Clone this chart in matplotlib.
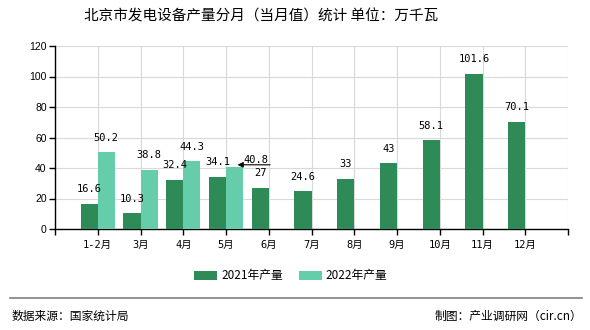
import matplotlib
matplotlib.use("Agg")
import matplotlib.pyplot as plt
import numpy as np

plt.rcParams['font.family'] = ['Noto Sans CJK SC', 'DejaVu Sans']

months = ["1-2月", "3月", "4月", "5月", "6月", "7月", "8月", "9月", "10月", "11月", "12月"]
out_2021 = [16.6, 10.3, 32.4, 34.1, 27, 24.6, 33, 43, 58.1, 101.6, 70.1]
out_2022 = [50.2, 38.8, 44.3, 40.8]

C21 = "#2e8b57"
C22 = "#66cdaa"
MONO = ['DejaVu Sans Mono', 'Noto Sans CJK SC']

fig = plt.figure(figsize=(5.9, 3.3), dpi=100)
ax = fig.add_axes([55 / 590, 1 - 229 / 330, 513 / 590, 183 / 330])

x21 = np.arange(len(out_2021))
x22 = np.arange(len(out_2022))
w = 0.4
ax.bar(x21 - w / 2, out_2021, w, color=C21, label="2021年产量", zorder=3)
ax.bar(x22 + w / 2, out_2022, w, color=C22, label="2022年产量", zorder=3)

for x, v in zip(x21, out_2021):
    ax.annotate(f"{v:g}", (x - w / 2, v), xytext=(0, 7), textcoords="offset points",
                ha="center", va="bottom", fontsize=7.5, family=MONO)
for i, (x, v) in enumerate(zip(x22, out_2022)):
    if i == 3:
        # last value is pushed aside, with a leader arrow back to the bar top
        ax.annotate(f"{v:g}", (x + w / 2 + 0.07, v + 1.3), xytext=(x + w / 2 + 0.49, v + 1.3),
                    textcoords="data", ha="center", va="bottom", fontsize=7.5, family=MONO,
                    arrowprops=dict(arrowstyle="-|>", color="black", lw=0.8,
                                    mutation_scale=8, shrinkA=0, shrinkB=0,
                                    patchA=None, relpos=(1.08, 0.0)))
    else:
        ax.annotate(f"{v:g}", (x + w / 2, v), xytext=(0, 7), textcoords="offset points",
                    ha="center", va="bottom", fontsize=7.5, family=MONO)

ax.set_xlim(-1, 11)
ax.set_ylim(0, 120)
ax.set_yticks(np.arange(0, 121, 20))
ax.set_yticklabels([str(t) for t in range(0, 121, 20)], family='Liberation Sans', fontsize=7.5)
ax.set_xticks(np.arange(-1, 12))
ax.set_xticklabels([""] + months + [""], family=MONO, fontsize=7.5)

ax.grid(True, color="#d9d9d9", lw=0.8, zorder=0)
for s in ["top", "right"]:
    ax.spines[s].set_visible(False)
for s in ["left", "bottom"]:
    ax.spines[s].set_color("black")
    ax.spines[s].set_linewidth(1.0)
ax.tick_params(axis="both", length=4, width=1, color="black", pad=2)
ax.tick_params(axis="x", pad=4)

fig.text(261 / 590, 1 - 16 / 330, "北京市发电设备产量分月（当月值）统计 单位：万千瓦",
         ha="center", va="center", fontsize=10.5)

fig.legend(loc="center", bbox_to_anchor=(291 / 590, 1 - 276 / 330), ncol=2,
           frameon=False, fontsize=8.5, handlelength=1.9, handleheight=0.75,
           handletextpad=0.35, columnspacing=1.4)

fig.add_artist(plt.Line2D([10 / 590, 582 / 590], [1 - 298 / 330] * 2,
                          color="#808080", lw=1.2))
fig.text(12 / 590, 1 - 316 / 330, "数据来源：国家统计局", ha="left", va="center", fontsize=8.5)
fig.text(582 / 590, 1 - 316 / 330, "制图：产业调研网（cir.cn）", ha="right", va="center",
         fontsize=8.5)

fig.savefig("out.png", dpi=100)
